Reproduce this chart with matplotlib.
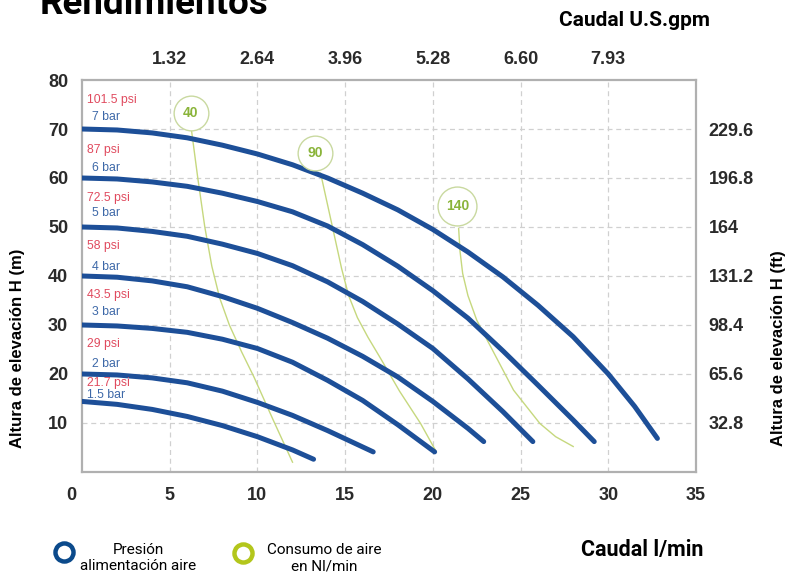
import matplotlib
matplotlib.use('Agg')
import matplotlib.pyplot as plt
from matplotlib.lines import Line2D
from matplotlib.transforms import ScaledTranslation

# pump curves: flow (l/min) vs head (m) for each supply pressure
q_7bar = [0, 2, 4, 6, 8, 10, 12, 14, 16, 18, 20, 22, 24, 26, 28, 30, 31.5, 32.8]
h_7bar = [70, 69.8, 69.2, 68.2, 66.7, 64.9, 62.7, 60.0, 56.9, 53.5, 49.5, 44.9, 39.8, 34.0, 27.6, 20.0, 13.4, 6.85]
q_6bar = [0, 2, 4, 6, 8, 10, 12, 14, 16, 18, 20, 22, 24, 26, 28, 29.2]
h_6bar = [60, 59.8, 59.2, 58.3, 56.9, 55.2, 53.1, 50.2, 46.4, 42.0, 37.0, 31.4, 24.7, 17.7, 10.6, 6.2]
q_5bar = [0, 2, 4, 6, 8, 10, 12, 14, 16, 18, 20, 22, 24, 25.7]
h_5bar = [50, 49.8, 49.1, 48.1, 46.5, 44.6, 42.1, 38.8, 34.8, 30.2, 25.2, 19.0, 12.3, 6.2]
q_4bar = [0, 2, 4, 6, 8, 10, 12, 14, 16, 18, 20, 22, 22.9]
h_4bar = [40, 39.75, 39.0, 37.8, 35.8, 33.4, 30.5, 27.3, 23.6, 19.4, 14.4, 8.9, 6.2]
q_3bar = [0, 2, 4, 6, 8, 10, 12, 14, 16, 18, 20.1]
h_3bar = [30, 29.8, 29.3, 28.5, 27.1, 25.2, 22.4, 18.7, 14.6, 9.65, 4.1]
q_2bar = [0, 2, 4, 6, 8, 10, 12, 14, 16.6]
h_2bar = [20, 19.8, 19.2, 18.2, 16.5, 14.2, 11.55, 8.45, 4.1]
q_15bar = [0, 2, 4, 6, 8, 10, 12, 13.2]
h_15bar = [14.4, 13.8, 12.77, 11.33, 9.47, 7.2, 4.5, 2.6]

# air consumption lines (Nl/min)
q_air40 = [6.25, 6.6, 7.0, 7.4, 7.85, 8.4, 9.1, 9.8, 10.9, 12.0]
h_air40 = [69.5, 60, 50, 42, 35.5, 30, 24.5, 19.4, 10.6, 2.0]
q_air90 = [13.6, 14.0, 14.4, 14.8, 15.2, 15.7, 16.3, 17.0, 18.1, 19.3, 20.2]
h_air90 = [61, 54.5, 48, 41.5, 36, 31.5, 27.5, 23.3, 16.5, 9.9, 4.1]
q_air140 = [21.47, 21.55, 21.7, 22.0, 22.5, 23.1, 24.6, 26.1, 27.0, 28.0]
h_air140 = [49.7, 45, 40.5, 36, 31, 26.9, 16.7, 9.9, 7.2, 5.2]

air_labels = ['40', '90', '140']
air_circle_x = [6.2, 13.3, 21.4]
air_circle_y = [73.2, 65.2, 54.3]

psi_labels = ['101.5 psi', '87 psi', '72.5 psi', '58 psi', '43.5 psi', '29 psi', '21.7 psi']
psi_y = [75.9, 65.7, 56, 46.2, 36.1, 26.1, 18.1]
bar_labels = ['7 bar', '6 bar', '5 bar', '4 bar', '3 bar', '2 bar', '1.5 bar']
bar_y = [72.5, 62, 52.9, 41.8, 32.6, 22.0, 15.7]

x_ticks = [0, 5, 10, 15, 20, 25, 30, 35]
y_ticks = [10, 20, 30, 40, 50, 60, 70, 80]
gpm_ticks = [5, 10, 15, 20, 25, 30]
gpm_labels = ['1.32', '2.64', '3.96', '5.28', '6.60', '7.93']
ft_ticks = [10, 20, 30, 40, 50, 60, 70]
ft_labels = ['32.8', '65.6', '98.4', '131.2', '164', '196.8', '229.6']

BLUE = '#1d4f98'
GREEN_LINE = '#c6d87e'
GREEN_RING = '#c9d9a0'
GREEN_TXT = '#8ab43a'
RED_TXT = '#e04a5e'
BAR_TXT = '#3d68a8'
narrow = ['Liberation Sans Narrow', 'Roboto', 'DejaVu Sans']
arial = ['Liberation Sans', 'DejaVu Sans']

fig = plt.figure(figsize=(7.9, 5.76), dpi=100)
ax = fig.add_axes([0.1038, 0.1806, 0.7772, 0.6805])
ax.set_xlim(0, 35)
ax.set_ylim(0, 80)

for gx in gpm_ticks:
    ax.axvline(gx, color='#d0d0d0', lw=0.9, ls=(0, (4, 3)), zorder=0)
for gy in ft_ticks:
    ax.axhline(gy, color='#d0d0d0', lw=0.9, ls=(0, (4, 3)), zorder=0)

curves = [(q_7bar, h_7bar), (q_6bar, h_6bar), (q_5bar, h_5bar), (q_4bar, h_4bar),
          (q_3bar, h_3bar), (q_2bar, h_2bar), (q_15bar, h_15bar)]
for q, h in curves:
    ax.plot(q, h, color=BLUE, lw=3.6, solid_capstyle='round', solid_joinstyle='round', zorder=3)

for q, h in [(q_air40, h_air40), (q_air90, h_air90), (q_air140, h_air140)]:
    ax.plot(q, h, color=GREEN_LINE, lw=1.0, zorder=2)

for lab, cx, cy in zip(air_labels, air_circle_x, air_circle_y):
    ax.plot(cx, cy, 'o', ms=25 if lab != '140' else 28, mfc='white', mec=GREEN_RING, mew=1.0, zorder=4)
    ax.text(cx, cy, lab, color=GREEN_TXT, fontsize=10, fontweight='bold', family=arial,
            ha='center', va='center', zorder=5)

for lab, yy in zip(psi_labels, psi_y):
    ax.text(0.3, yy, lab, color=RED_TXT, fontsize=8.8, family=arial, va='center', zorder=5)
for lab, yy in zip(bar_labels, bar_y):
    ax.text(0.55 if lab != '1.5 bar' else 0.3, yy, lab, color=BAR_TXT, fontsize=8.8, family=arial,
            va='center', zorder=5)

for sp in ax.spines.values():
    sp.set_color('#b0b0b0')
    sp.set_linewidth(1.6)

tick_font = dict(fontsize=13, fontweight='bold', family=arial, color='#2a2a2a')
ax.set_xticks(x_ticks)
ax.set_xticklabels([str(t) for t in x_ticks], **tick_font)
ax.set_yticks(y_ticks)
ax.set_yticklabels([str(t) for t in y_ticks], **tick_font)
ax.tick_params(axis='x', length=0, pad=11)
ax.tick_params(axis='y', length=0, pad=10)
zero_lab = ax.get_xticklabels()[0]
zero_lab.set_transform(zero_lab.get_transform() + ScaledTranslation(-0.11, 0, fig.dpi_scale_trans))

top = ax.secondary_xaxis('top')
top.set_xticks(gpm_ticks)
top.set_xticklabels(gpm_labels, **tick_font)
top.tick_params(length=0, pad=9)
top.spines['top'].set_visible(False)

right = ax.secondary_yaxis('right')
right.set_yticks(ft_ticks)
right.set_yticklabels(ft_labels, **tick_font)
right.tick_params(length=0, pad=9)
right.spines['right'].set_visible(False)

fig.text(18 / 790, 1 - 348 / 576, 'Altura de elevación H (m)', rotation=90, ha='center', va='center',
         fontsize=12, fontweight='bold', family=arial)
fig.text(778 / 790, 1 - 348 / 576, 'Altura de elevación H (ft)', rotation=90, ha='center', va='center',
         fontsize=12, fontweight='bold', family=arial)

fig.text(40 / 790, 1 - 14 / 576, 'Rendimientos', ha='left', va='baseline',
         fontsize=26.5, fontweight='bold', family=narrow)
fig.text(710 / 790, 1 - 20 / 576, 'Caudal U.S.gpm', ha='right', va='center',
         fontsize=15, fontweight='bold', family=narrow)
fig.text(703 / 790, 1 - 550 / 576, 'Caudal l/min', ha='right', va='center',
         fontsize=15.5, fontweight='bold', family=narrow)

# legend rings
fig.add_artist(Line2D([64 / 790], [1 - 552 / 576], marker='o', ms=13, mfc='none', mec='#0b4a8b',
                      mew=3.2, ls='none', transform=fig.transFigure))
fig.add_artist(Line2D([243 / 790], [1 - 553 / 576], marker='o', ms=13, mfc='none', mec='#b3c61c',
                      mew=3.2, ls='none', transform=fig.transFigure))
fig.text(138 / 790, 1 - 558 / 576, 'Presión\nalimentación aire', ha='center', va='center',
         fontsize=11, family=narrow, linespacing=1.2)
fig.text(324 / 790, 1 - 558 / 576, 'Consumo de aire\nen Nl/min', ha='center', va='center',
         fontsize=11, family=narrow, linespacing=1.2)

fig.savefig('out.png', dpi=100)
